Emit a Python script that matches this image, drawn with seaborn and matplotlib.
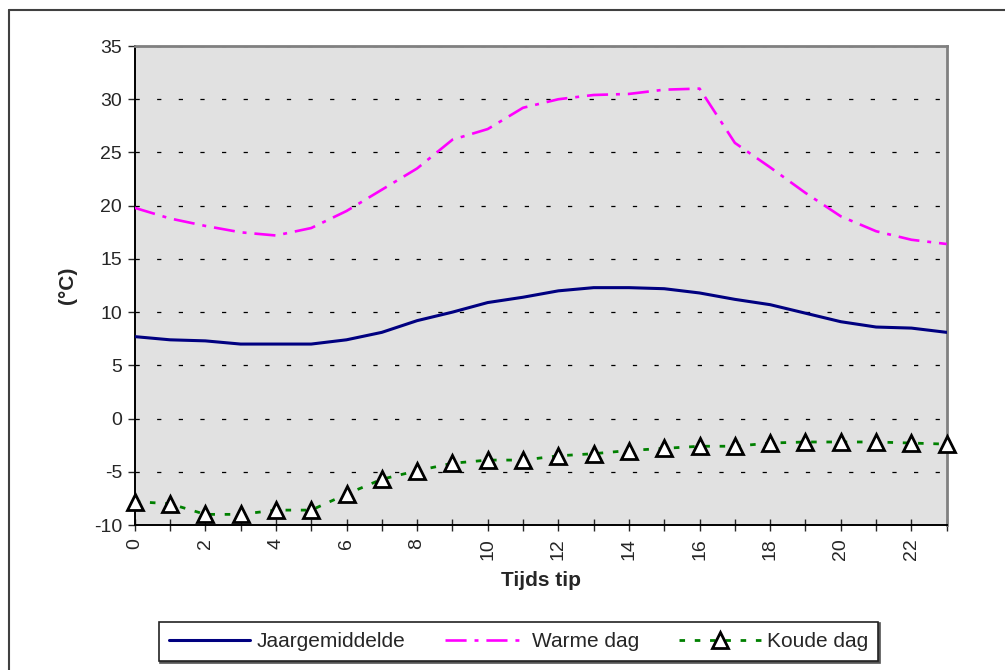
import numpy as np
import pandas as pd
import matplotlib
matplotlib.use("Agg")
import matplotlib.pyplot as plt
import seaborn as sns
from matplotlib.lines import Line2D

# data
uren = list(range(24))
jaargemiddelde = [7.7, 7.4, 7.3, 7.0, 7.0, 7.0, 7.4, 8.1, 9.2, 10.0, 10.9, 11.4,
                  12.0, 12.3, 12.3, 12.2, 11.8, 11.2, 10.7, 9.9, 9.1, 8.6, 8.5, 8.1]
warme_dag = [19.8, 18.8, 18.1, 17.5, 17.2, 17.9, 19.5, 21.5, 23.5, 26.2, 27.2, 29.2,
             30.0, 30.4, 30.5, 30.9, 31.0, 25.9, 23.6, 21.2, 19.0, 17.6, 16.8, 16.4]
koude_dag = [-7.8, -8.0, -9.0, -9.0, -8.6, -8.6, -7.1, -5.7, -4.9, -4.2, -3.9, -3.9,
             -3.5, -3.3, -3.0, -2.8, -2.6, -2.6, -2.3, -2.2, -2.2, -2.2, -2.3, -2.4]
y_ticks = list(range(-10, 36, 5))
x_labels = list(range(0, 24, 2))

df = pd.DataFrame({"uur": uren, "Jaargemiddelde": jaargemiddelde,
                   "Warme dag": warme_dag, "Koude dag": koude_dag})

sns.set_style("white")
plt.rcParams['font.family'] = ['Liberation Sans', 'DejaVu Sans']
plt.rcParams['axes.unicode_minus'] = False

fig = plt.figure(figsize=(10.05, 6.70), dpi=100)
ax = fig.add_axes([0.134, 0.2164, 0.808, 0.7149])
ax.set_facecolor('#e1e1e1')

sns.lineplot(data=df, x="uur", y="Jaargemiddelde", ax=ax, color='#000080',
             lw=2.2, label="Jaargemiddelde", zorder=3)
sns.lineplot(data=df, x="uur", y="Warme dag", ax=ax, color='#ff00ff',
             lw=1.9, linestyle=(0, (8, 3, 1.5, 3)), label="Warme dag", zorder=3)
sns.lineplot(data=df, x="uur", y="Koude dag", ax=ax, color='#008000',
             lw=2.0, linestyle=(0, (2, 3.5)), marker='^', markersize=11,
             markerfacecolor='white', markeredgecolor='black', markeredgewidth=2,
             label="Koude dag", zorder=4, clip_on=False)

ax.set_xlim(0, 23)
ax.set_ylim(-10, 35)
ax.set_yticks(y_ticks)
ax.set_xticks(uren)
ax.set_xticklabels([str(u) if u in x_labels else '' for u in uren], rotation=90)
ax.tick_params(axis='y', direction='out', length=5, width=1, labelsize=14,
               left=True, pad=4)
ax.tick_params(axis='x', direction='inout', length=9, width=1, labelsize=14,
               bottom=True, pad=5)

ax.yaxis.grid(True, color='black', lw=0.9, linestyle=(0, (3.4, 13.9)))
ax.set_axisbelow(True)

for side in ['left', 'bottom']:
    ax.spines[side].set_color('black')
    ax.spines[side].set_linewidth(1.4)
for side in ['top', 'right']:
    ax.spines[side].set_color('#808080')
    ax.spines[side].set_linewidth(2.0)

ax.set_xlabel("Tijds tip", fontsize=15, fontweight='bold', labelpad=8)
ax.set_ylabel("(°C)", fontsize=15, fontweight='bold', labelpad=12)

ax.get_legend().remove()
handles, labels = ax.get_legend_handles_labels()
leg = fig.legend(handles, labels, loc='center', bbox_to_anchor=(0.516, 0.0425),
                 ncol=3, frameon=True, fancybox=False, handlelength=3.9,
                 columnspacing=1.9, handletextpad=0.3, borderpad=0.5,
                 prop={'size': 15},
                 shadow={'ox': 1.0, 'oy': -1.0, 'color': '#555555', 'alpha': 1.0})
leg.get_frame().set_edgecolor('#222222')
leg.get_frame().set_linewidth(1.2)
leg.get_frame().set_alpha(1.0)

# outer chart frame
fig.add_artist(Line2D([0.009, 0.009], [0.0, 0.985], color='#404040', lw=1.5))
fig.add_artist(Line2D([0.009, 1.0], [0.985, 0.985], color='#404040', lw=1.5))

fig.savefig("out.png", dpi=100)
